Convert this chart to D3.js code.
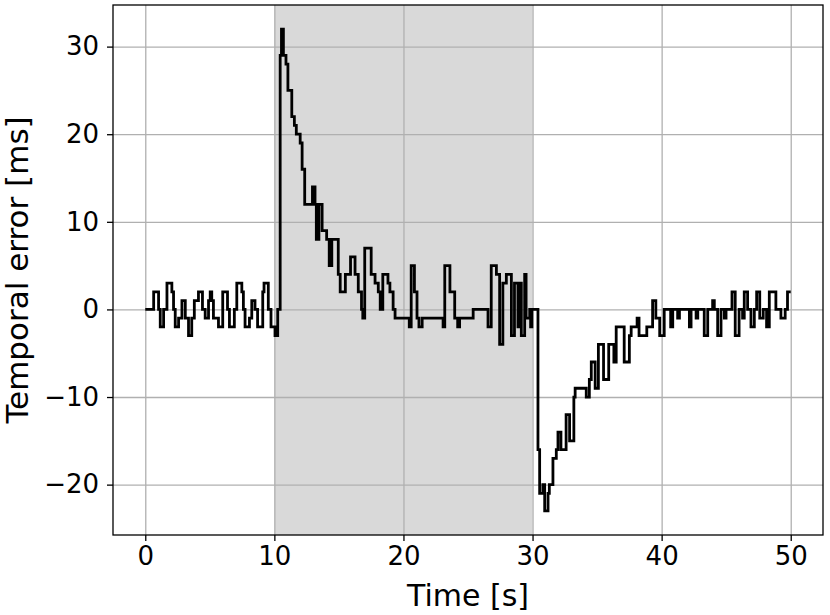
<!DOCTYPE html>
<html>
<head>
<meta charset="utf-8">
<script src="https://cdn.jsdelivr.net/npm/d3@7"></script>
<style>
  body { margin: 0; background: #fff; }
  text { font-family: "DejaVu Sans", sans-serif; fill: #000; }
</style>
</head>
<body>
<div id="chart"></div>
<script>
// step change points: time [s] and temporal error [ms]
var times = [0, 0.65, 1.03, 1.16, 1.42, 1.68, 2.06, 2.19, 2.32, 2.58, 2.84, 3.1, 3.35, 3.6, 3.8,
  4.12, 4.43, 4.64, 4.9, 5.03, 5.15, 5.28, 5.67, 6.0, 6.37, 6.52, 6.9, 7.09, 7.48, 7.6, 7.73,
  8.07, 8.25, 8.5, 8.7, 9.1, 9.2, 9.53, 9.74, 10.05, 10.26, 10.45, 10.55, 10.7, 10.9, 11.05,
  11.35, 11.55, 11.7, 12.0, 12.15, 12.35, 12.95, 13.15, 13.25, 13.45, 13.7, 14.05, 14.25, 14.45,
  14.95, 15.1, 15.5, 15.9, 16.25, 16.5, 16.75, 16.85, 17.0, 17.5, 17.8, 18.05, 18.2, 18.4, 18.8,
  18.95, 19.2, 19.35, 20.45, 20.6, 20.85, 21.05, 21.2, 21.45, 23.07, 23.2, 23.6, 23.97, 24.2,
  24.35, 25.4, 26.55, 26.8, 27.2, 27.45, 27.7, 27.97, 28.36, 28.6, 28.87, 29.0, 29.13, 29.39,
  29.5, 29.78, 29.85, 29.95, 30.42, 30.55, 30.8, 30.94, 31.2, 31.3, 31.58, 31.84, 31.97, 32.2,
  32.6, 32.87, 33.2, 33.3, 34.16, 34.4, 34.55, 34.85, 35.1, 35.5, 35.9, 36.3, 36.48, 37.1, 37.5,
  37.64, 38.1, 38.25, 38.85, 39.3, 39.55, 39.85, 40.2, 40.7, 40.86, 41.24, 41.38, 42.15, 42.28,
  42.67, 42.8, 43.3, 43.57, 43.95, 44.08, 44.34, 44.6, 44.86, 44.99, 45.45, 45.7, 46.0, 46.27,
  46.4, 46.66, 46.92, 47.18, 47.36, 47.6, 47.87, 48.13, 48.34, 48.85, 49.24, 49.57, 49.75, 50];
var values = [0, 2, 0, -2, 0, 3, 2, 0, -2, -1, 1, -1, -3, -1, 1,
  2, 0, -1, 1, 2, 1, -1, -2, 2, 0, -2, 0, 3, 2, 0, -2,
  -1, 1, 0, -2, 2, 3, 0, -2, -3, 0, 29, 32, 29, 28, 25,
  22, 21, 20, 19, 16, 12, 14, 12, 8, 12, 9, 8, 5, 8,
  4, 2, 4, 6, 4, 2, 0, -1, 7, 4, 3, 2, 0, 4, 3,
  2, 0, -1, -2, 5, 2, -1, -2, -1, -2, 5, 2, -1, -2,
  -1, 0, -2, 5, 4, -4, 3, 4, -3, 3, -2, 3, -3, 4,
  -1, 0, -2, 0, -16, -21, -20, -23, -21, -20, -17, -16, -14, -16,
  -12, -15, -10, -9, -10, -8, -6, -9, -4, -8, -4, -6, -2, -6, -3,
  -2, -1, -3, -2, 1, -1, -3, 0, -2, 0, -1, 0, -2, 0,
  -1, 0, -3, 0, 1, 0, -3, 0, -1, 0, 2, -3, 0, -1,
  2, 0, -2, 0, 2, -1, 0, -2, 2, 0, -1, 0, 2, 2];

var shadeSpan = [10, 30];
var xTicks = [0, 10, 20, 30, 40, 50];
var yTicks = [-20, -10, 0, 10, 20, 30];

(function() {
  var width = 830,
    height = 615;
  var plotLeft = 113, plotRight = 823, plotTop = 5, plotBottom = 535;

  var svg = d3.select("#chart")
    .append("svg")
    .attr("width", width)
    .attr("height", height);

  var x = d3.scaleLinear().domain([-2.5, 52.5]).range([plotLeft, plotRight]);
  var y = d3.scaleLinear().domain([-25.75, 34.75]).range([plotBottom, plotTop]);

  var points = times.map(function(t, i) {
    return [t, values[i]];
  });

  // shaded interval
  svg.append("rect")
    .attr("x", x(shadeSpan[0]))
    .attr("y", plotTop)
    .attr("width", x(shadeSpan[1]) - x(shadeSpan[0]))
    .attr("height", plotBottom - plotTop)
    .attr("fill", "#d9d9d9");

  // grid
  svg.append("g")
    .attr("transform", "translate(0," + plotBottom + ")")
    .call(d3.axisBottom(x).tickValues(xTicks).tickSize(-(plotBottom - plotTop)).tickFormat(""))
    .call(function(g) {
      g.select(".domain").remove();
      g.selectAll("line").attr("stroke", "#b0b0b0").attr("stroke-width", 1.3);
    });

  svg.append("g")
    .attr("transform", "translate(" + plotLeft + ",0)")
    .call(d3.axisLeft(y).tickValues(yTicks).tickSize(-(plotRight - plotLeft)).tickFormat(""))
    .call(function(g) {
      g.select(".domain").remove();
      g.selectAll("line").attr("stroke", "#b0b0b0").attr("stroke-width", 1.3);
    });

  // the step line
  var line = d3.line()
    .x(function(d) { return x(d[0]); })
    .y(function(d) { return y(d[1]); })
    .curve(d3.curveStepAfter);

  svg.append("path")
    .datum(points)
    .attr("fill", "none")
    .attr("stroke", "#000")
    .attr("stroke-width", 2.8)
    .attr("d", line);

  // frame
  svg.append("rect")
    .attr("x", plotLeft)
    .attr("y", plotTop)
    .attr("width", plotRight - plotLeft)
    .attr("height", plotBottom - plotTop)
    .attr("fill", "none")
    .attr("stroke", "#000")
    .attr("stroke-width", 1.3);

  // axes
  var xAxis = svg.append("g")
    .attr("transform", "translate(0," + plotBottom + ")")
    .call(d3.axisBottom(x).tickValues(xTicks).tickSize(6).tickPadding(6).tickFormat(d3.format("d")));

  var yAxis = svg.append("g")
    .attr("transform", "translate(" + plotLeft + ",0)")
    .call(d3.axisLeft(y).tickValues(yTicks).tickSize(6).tickPadding(8).tickFormat(d3.format("d")));

  [xAxis, yAxis].forEach(function(g) {
    g.select(".domain").remove();
    g.selectAll("line").attr("stroke", "#000").attr("stroke-width", 1.3);
    g.selectAll("text")
      .style("font-family", "DejaVu Sans")
      .style("font-size", "26px")
      .attr("fill", "#000");
  });

  svg.append("text")
    .attr("x", (plotLeft + plotRight) / 2)
    .attr("y", 606)
    .attr("text-anchor", "middle")
    .style("font-size", "30px")
    .text("Time [s]");

  svg.append("text")
    .attr("transform", "translate(28," + (plotTop + plotBottom) / 2 + ") rotate(-90)")
    .attr("text-anchor", "middle")
    .style("font-size", "31px")
    .text("Temporal error [ms]");
})();
</script>
</body>
</html>
